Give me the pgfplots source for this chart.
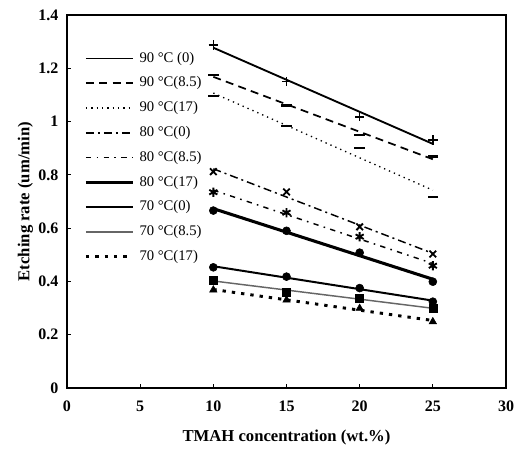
\documentclass[border=0pt]{standalone}
\usepackage{fontspec}
\setmainfont{Liberation Serif}
\usepackage{pgfplots}
\usepackage{pgfplotstable}
\pgfplotsset{compat=1.18}
\pgfplotstableread{
x a b c d e f g h i
10 1.288 1.175 1.096 0.812 0.735 0.666 0.453 0.405 0.368
15 1.150 1.060 0.983 0.736 0.658 0.590 0.418 0.361 0.330
20 1.018 0.950 0.902 0.605 0.568 0.508 0.375 0.337 0.299
25 0.931 0.868 0.718 0.503 0.459 0.399 0.324 0.299 0.249
}\data
\begin{document}
\begin{tikzpicture}
\begin{axis}[
  scale only axis,
  width=329.25pt, height=279.75pt,
  xmin=0, xmax=30, ymin=0, ymax=1.4,
  xtick={0,5,...,30},
  ytick={0,0.2,...,1.4},
  tick pos=left,
  tick align=inside,
  major tick length=3pt,
  axis line style={line width=1pt},
  every tick/.style={line width=0.6pt, black},
  /pgf/number format/assume math mode=true,
  ticklabel style={font=\fontsize{12}{14}\selectfont\bfseries},
  yticklabel style={xshift=-3pt},
  xticklabel style={yshift=-6pt},
  xlabel={TMAH concentration (wt.\%)},
  ylabel={Etching rate (um/min)},
  label style={font=\fontsize{12.5}{14}\selectfont\bfseries},
  xlabel style={yshift=-7pt},
  ylabel style={yshift=-3pt},
  legend cell align=left,
  legend style={at={(rel axis cs:0.03,0.91)}, anchor=north west, draw=none, fill=none,
    font=\fontsize{11}{13}\selectfont,
    nodes={inner sep=0pt, text height=8pt, text depth=2.5pt},
    row sep=8.1pt, column sep=4pt},
  legend image code/.code={\draw[#1] (0pt,0pt) -- (35pt,0pt);},
]
% markers (no legend)
\addplot[only marks, mark=+, mark size=3.5pt, line width=1.2pt, forget plot] table[x=x,y=a]{\data};
\addplot[only marks, mark=-, mark size=4pt, line width=2pt, forget plot] table[x=x,y=b]{\data};
\addplot[only marks, mark=-, mark size=4pt, line width=1.6pt, forget plot] table[x=x,y=c]{\data};
\addplot[only marks, mark=x, mark size=3.5pt, line width=1.4pt, forget plot] table[x=x,y=d]{\data};
\addplot[only marks, mark=asterisk, mark size=3.5pt, line width=1.4pt, forget plot] table[x=x,y=e]{\data};
\addplot[only marks, mark=*, mark size=3pt, forget plot] table[x=x,y=f]{\data};
\addplot[only marks, mark=*, mark size=3pt, forget plot] table[x=x,y=g]{\data};
\addplot[only marks, mark=square*, mark size=3pt, forget plot] table[x=x,y=h]{\data};
\addplot[only marks, mark=triangle*, mark size=3.2pt, forget plot] table[x=x,y=i]{\data};
% trend lines
\addplot[no marks, black, line width=1.4pt] table[x=x,y={create col/linear regression={y=a}}]{\data};
\addlegendentry{90 °C (0)}
\addplot[no marks, black, line width=1.3pt, dash pattern=on 6pt off 4pt] table[x=x,y={create col/linear regression={y=b}}]{\data};
\addlegendentry{90 °C(8.5)}
\addplot[no marks, black, line width=1pt, dash pattern=on 1pt off 3pt] table[x=x,y={create col/linear regression={y=c}}]{\data};
\addlegendentry{90 °C(17)}
\addplot[no marks, black, line width=1.1pt, dash pattern=on 6pt off 3pt on 1.5pt off 3pt] table[x=x,y={create col/linear regression={y=d}}]{\data};
\addlegendentry{80 °C(0)}
\addplot[no marks, black, line width=1.1pt, dash pattern=on 4pt off 4pt on 1.2pt off 4pt] table[x=x,y={create col/linear regression={y=e}}]{\data};
\addlegendentry{80 °C(8.5)}
\addplot[no marks, black, line width=2.3pt] table[x=x,y={create col/linear regression={y=f}}]{\data};
\addlegendentry{80 °C(17)}
\addplot[no marks, black, line width=1.5pt] table[x=x,y={create col/linear regression={y=g}}]{\data};
\addlegendentry{70 °C(0)}
\addplot[no marks, black!60, line width=1.1pt] table[x=x,y={create col/linear regression={y=h}}]{\data};
\addlegendentry{70 °C(8.5)}
\addplot[no marks, black, line width=2.2pt, dash pattern=on 2.5pt off 4.5pt] table[x=x,y={create col/linear regression={y=i}}]{\data};
\addlegendentry{70 °C(17)}
\end{axis}
\path (current axis.south west) ++(-50.25pt,-49.5pt) coordinate (bl);
\path (current axis.north east) ++(16.5pt,11.25pt) coordinate (tr);
\path (bl) rectangle (tr);
\end{tikzpicture}
\end{document}
